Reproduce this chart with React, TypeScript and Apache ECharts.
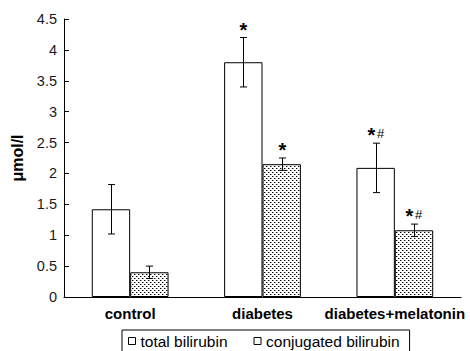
import React, { useEffect, useRef } from "react";
import * as echarts from "echarts";

const categories = ["control", "diabetes", "diabetes+melatonin"];
const totalBilirubin = [1.42, 3.8, 2.09];
const totalError = [0.4, 0.4, 0.4];
const conjugatedBilirubin = [0.4, 2.15, 1.08];
const conjugatedError = [0.1, 0.1, 0.1];
const totalMarks = ["", "*", "*#"];
const conjugatedMarks = ["", "*", "*#"];
const seriesNames = ["total bilirubin", "conjugated bilirubin"];
const yMin = 0;
const yMax = 4.5;
const yInterval = 0.5;

const FONT = "'Liberation Sans', Arial, Helvetica, sans-serif";
const CAT_GAP = 0.42;

function makeDotPattern(): HTMLCanvasElement {
  const c = document.createElement("canvas");
  c.width = 4;
  c.height = 4;
  const ctx = c.getContext("2d")!;
  ctx.fillStyle = "#ffffff";
  ctx.fillRect(0, 0, 4, 4);
  ctx.fillStyle = "#000000";
  ctx.fillRect(0, 0, 1, 1);
  ctx.fillRect(2, 2, 1, 1);
  ctx.fillStyle = "#9a9a9a";
  ctx.fillRect(1, 0, 1, 1);
  ctx.fillRect(3, 2, 1, 1);
  return c;
}

function errorSeries(values: number[], errors: number[], marks: string[], side: number) {
  return {
    type: "custom",
    z: 5,
    encode: { x: 0, y: 1 },
    data: values.map((v, i) => [i, v, errors[i]]),
    renderItem: (params: any, api: any) => {
      const i = api.value(0);
      const v = api.value(1);
      const e = api.value(2);
      const catW = api.size([1, 0])[0];
      const barW = (catW * (1 - CAT_GAP)) / 2;
      const dx = (side * barW) / 2;
      const top = api.coord([i, v + e]);
      const bot = api.coord([i, v - e]);
      const x = Math.round(top[0] + dx) + 0.5;
      const cap = 3.5;
      const ls = { stroke: "#000", lineWidth: 1 };
      const mark = marks[params.dataIndex];
      const children: any[] = [
        { type: "line", shape: { x1: x, y1: top[1], x2: x, y2: bot[1] }, style: ls },
        { type: "line", shape: { x1: x - cap, y1: top[1], x2: x + cap, y2: top[1] }, style: ls },
        { type: "line", shape: { x1: x - cap, y1: bot[1], x2: x + cap, y2: bot[1] }, style: ls },
      ];
      if (mark) {
        const cy = top[1] - 11;
        const hasHash = mark.indexOf("#") >= 0;
        children.push({
          type: "text",
          x: hasHash ? x - 5 : x,
          y: cy + 3,
          style: {
            text: "*",
            fontSize: 20,
            fontFamily: FONT,
            fontWeight: "bold",
            fill: "#000",
            align: "center",
            verticalAlign: "middle",
          },
        });
        if (hasHash) {
          children.push({
            type: "text",
            x: x + 4,
            y: cy + 1,
            style: {
              text: "#",
              fontSize: 13,
              fontFamily: FONT,
              fill: "#000",
              align: "center",
              verticalAlign: "middle",
            },
          });
        }
      }
      return { type: "group", children };
    },
  };
}

export default function App() {
  const ref = useRef<HTMLDivElement>(null);
  useEffect(() => {
    if (!ref.current) return;
    const chart = echarts.init(ref.current, null, { renderer: "svg" });
    const pattern = makeDotPattern();
    chart.setOption({
      animation: false,
      backgroundColor: "#ffffff",
      grid: { left: 64, right: 9, top: 19, bottom: 54, containLabel: false },
      legend: {
        left: 122,
        top: 330,
        orient: "horizontal",
        itemWidth: 7,
        itemHeight: 7,
        itemGap: 26,
        padding: [3, 10, 10, 6],
        borderColor: "#000",
        borderWidth: 1,
        selectedMode: false,
        textStyle: { fontSize: 15.5, fontFamily: FONT, color: "#000" },
        data: seriesNames.map((n) => ({
          name: n,
          icon: "rect",
          itemStyle: { color: "#fff", borderColor: "#000", borderWidth: 1 },
        })),
      },
      xAxis: {
        type: "category",
        data: categories,
        axisLine: { lineStyle: { color: "#000", width: 1 } },
        axisTick: { inside: true, length: 5, lineStyle: { color: "#000" } },
        axisLabel: {
          interval: 0,
          margin: 9,
          fontSize: 15,
          fontWeight: "bold",
          fontFamily: FONT,
          color: "#000",
        },
        splitLine: { show: false },
      },
      yAxis: {
        type: "value",
        min: yMin,
        max: yMax,
        interval: yInterval,
        name: "μmol/l",
        nameLocation: "middle",
        nameGap: 36,
        nameRotate: 90,
        nameTextStyle: { fontSize: 16, fontWeight: "bold", fontFamily: FONT, color: "#000" },
        axisLine: { show: true, lineStyle: { color: "#000", width: 1 } },
        axisTick: { show: true, inside: true, length: 5, lineStyle: { color: "#000" } },
        axisLabel: { margin: 7, fontSize: 14.5, fontFamily: FONT, color: "#1a1a1a" },
        splitLine: { show: false },
      },
      series: [
        {
          name: seriesNames[0],
          type: "bar",
          data: totalBilirubin,
          barGap: "0%",
          barCategoryGap: CAT_GAP * 100 + "%",
          itemStyle: { color: "#ffffff", borderColor: "#000", borderWidth: 1 },
        },
        {
          name: seriesNames[1],
          type: "bar",
          data: conjugatedBilirubin,
          barGap: "0%",
          barCategoryGap: CAT_GAP * 100 + "%",
          itemStyle: {
            color: { image: pattern, repeat: "repeat" },
            borderColor: "#000",
            borderWidth: 1,
          },
        },
        errorSeries(totalBilirubin, totalError, totalMarks, -1),
        errorSeries(conjugatedBilirubin, conjugatedError, conjugatedMarks, 1),
      ],
    });
    return () => chart.dispose();
  }, []);
  return (
    <div
      ref={ref}
      style={{ position: "fixed", left: 0, top: 0, width: 470, height: 351 }}
    />
  );
}
